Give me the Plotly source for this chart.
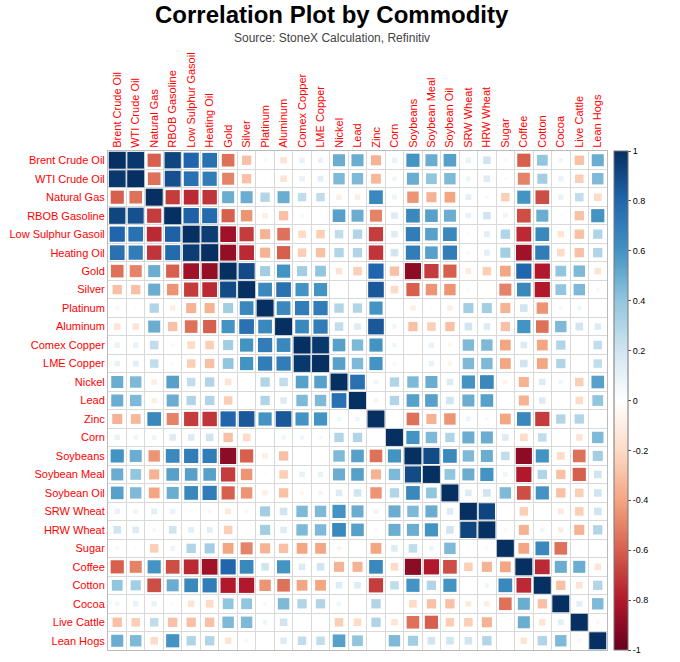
import numpy as np
import plotly.graph_objects as go

# Commodity names (row / column order)
commodities = [
    "Brent Crude Oil", "WTI Crude Oil", "Natural Gas", "RBOB Gasoline",
    "Low Sulphur Gasoil", "Heating Oil", "Gold", "Silver", "Platinum",
    "Aluminum", "Comex Copper", "LME Copper", "Nickel", "Lead", "Zinc",
    "Corn", "Soybeans", "Soybean Meal", "Soybean Oil", "SRW Wheat",
    "HRW Wheat", "Sugar", "Coffee", "Cotton", "Cocoa", "Live Cattle", "Lean Hogs",
]

# Lower triangle of the correlation matrix
r_brent = [1]
r_wti = [0.97, 1]
r_natgas = [-0.6, -0.55, 1]
r_rbob = [0.92, 0.88, -0.7, 1]
r_lsgo = [0.8, 0.75, -0.75, 0.82, 1]
r_ho = [0.75, 0.7, -0.72, 0.78, 0.95, 1]
r_gold = [-0.55, -0.5, 0.5, -0.6, -0.85, -0.88, 1]
r_silver = [-0.3, -0.3, 0.5, -0.45, -0.7, -0.75, 0.9, 1]
r_plat = [-0.05, -0.03, 0.3, -0.1, -0.35, -0.35, 0.35, 0.65, 1]
r_alu = [-0.15, -0.15, 0.5, -0.3, -0.55, -0.6, 0.6, 0.75, 0.65, 1]
r_comex = [0.1, 0.1, 0.25, 0.05, -0.2, -0.25, 0.35, 0.6, 0.7, 0.65, 1]
r_lme = [0.1, 0.12, 0.25, 0.03, -0.25, -0.3, 0.4, 0.6, 0.7, 0.7, 0.97, 1]
r_nickel = [0.5, 0.45, -0.1, 0.55, 0.25, 0.3, -0.15, 0, 0.3, 0.25, 0.55, 0.55, 1]
r_lead = [0.5, 0.45, -0.1, 0.5, 0.3, 0.3, -0.25, -0.02, 0.3, 0.15, 0.45, 0.45, 0.75, 1]
r_zinc = [-0.35, -0.33, 0.65, -0.5, -0.7, -0.72, 0.8, 0.85, 0.6, 0.85, 0.6, 0.6, 0.07, 0.07, 1]
r_corn = [0.1, 0.07, 0.08, 0.15, 0.15, 0.2, -0.3, -0.2, 0.02, 0.07, 0.07, 0.05, 0.3, 0.3,
          -0.02, 1]
r_soyb = [0.6, 0.5, -0.45, 0.65, 0.7, 0.7, -0.9, -0.6, -0.1, -0.3, 0, -0.02, 0.45, 0.55,
          -0.55, 0.6, 1]
r_soym = [0.5, 0.4, -0.35, 0.55, 0.55, 0.55, -0.7, -0.45, -0.03, -0.25, 0.1, 0.1, 0.5, 0.55,
          -0.35, 0.45, 0.9, 1]
r_soyo = [0.55, 0.45, -0.4, 0.5, 0.65, 0.7, -0.6, -0.45, -0.1, -0.3, -0.05, -0.07, 0.15, 0.2,
          -0.45, 0.3, 0.65, 0.4, 1]
r_srw = [0.1, 0.08, 0.12, 0.1, 0.03, 0.05, -0.12, 0.05, 0.35, 0.2, 0.45, 0.45, 0.6, 0.5,
         0.08, 0.5, 0.45, 0.5, 0.15, 1]
r_hrw = [0.2, 0.15, 0.05, 0.2, 0.12, 0.12, -0.25, 0, 0.35, 0.15, 0.45, 0.45, 0.65, 0.55,
         0.05, 0.5, 0.5, 0.6, 0.2, 0.92, 1]
r_sugar = [0.05, 0.03, -0.25, 0.08, 0.3, 0.35, -0.4, -0.5, -0.35, -0.3, -0.4, -0.4, -0.07, 0,
           -0.4, 0.15, 0.25, 0.08, 0.45, -0.02, -0.05, 1]
r_coffee = [-0.6, -0.5, 0.6, -0.65, -0.75, -0.85, 0.8, 0.65, 0.2, 0.6, 0.15, 0.2, -0.35, -0.35,
            0.65, -0.2, -0.9, -0.8, -0.65, -0.25, -0.35, -0.4, 1]
r_cotton = [0.4, 0.35, -0.65, 0.5, 0.65, 0.7, -0.8, -0.8, -0.45, -0.55, -0.4, -0.4, 0.15, 0.15,
            -0.7, 0.25, 0.6, 0.3, 0.6, 0.02, 0.07, 0.65, -0.75, 1]
r_cocoa = [0.07, 0.1, 0.1, 0.03, -0.15, -0.2, 0.4, 0.4, 0.05, 0.45, 0.3, 0.3, 0.07, 0,
           0.3, 0, -0.2, -0.3, -0.3, -0.12, -0.1, -0.55, 0.5, -0.3, 1]
r_cattle = [-0.3, -0.25, 0.25, -0.3, -0.3, -0.3, 0.45, 0.45, 0.07, 0.2, 0.02, 0.02, -0.25, -0.2,
            0.3, -0.15, -0.55, -0.6, -0.25, -0.25, -0.35, -0.02, 0.5, -0.15, 0.12, 1]
r_hogs = [0.5, 0.45, -0.2, 0.6, 0.3, 0.3, -0.15, -0.05, 0.02, 0.15, 0.25, 0.25, 0.55, 0.4,
          -0.01, 0.45, 0.35, 0.2, 0.2, 0.2, 0.3, 0, -0.15, 0.3, 0.45, -0.05, 1]

lower = [r_brent, r_wti, r_natgas, r_rbob, r_lsgo, r_ho, r_gold, r_silver, r_plat, r_alu,
         r_comex, r_lme, r_nickel, r_lead, r_zinc, r_corn, r_soyb, r_soym, r_soyo, r_srw,
         r_hrw, r_sugar, r_coffee, r_cotton, r_cocoa, r_cattle, r_hogs]

# Build full symmetric matrix
n = len(commodities)
corr = np.zeros((n, n))
for i, row in enumerate(lower):
    for j, v in enumerate(row):
        corr[i, j] = v
        corr[j, i] = v

# corrplot style RdBu colours
rdbu = ["#67001F", "#B2182B", "#D6604D", "#F4A582", "#FDDBC7", "#FFFFFF",
        "#D1E5F0", "#92C5DE", "#4393C3", "#2166AC", "#053061"]
colorscale = [[k / 10, c] for k, c in enumerate(rdbu)]

xs, ys, vals = [], [], []
for i in range(n):
    for j in range(n):
        xs.append(j)
        ys.append(i)
        vals.append(corr[i, j])
vals = np.array(vals)
# square area proportional to |r|
sizes = 17 * np.sqrt(np.abs(vals))

fig = go.Figure()
fig.add_trace(go.Scatter(
    x=xs, y=ys, mode="markers",
    marker=dict(
        symbol="square", size=sizes, color=vals, opacity=1,
        colorscale=colorscale, cmin=-1, cmax=1,
        line=dict(width=0),
        colorbar=dict(
            x=1.014, xanchor="left", xpad=0,
            y=0.5, yanchor="middle", ypad=0,
            len=1, lenmode="fraction", thickness=14,
            tickvals=[1, 0.8, 0.6, 0.4, 0.2, 0, -0.2, -0.4, -0.6, -0.8, -1],
            ticktext=["1", "0.8", "0.6", "0.4", "0.2", "0", "-0.2", "-0.4", "-0.6", "-0.8", "-1"],
            ticks="outside", ticklen=3, tickcolor="#555",
            tickfont=dict(size=9, color="black"),
            outlinewidth=1, outlinecolor="#777",
        ),
    ),
    hoverinfo="skip",
    showlegend=False,
))

grid = dict(tick0=0.5, dtick=1, showgrid=True, gridcolor="#D9D9D9", gridwidth=1)

fig.update_xaxes(
    range=[-0.5, n - 0.5], side="top", automargin=False,
    tickvals=list(range(n)), ticktext=commodities, tickangle=-90,
    tickfont=dict(size=11, color="red", family="Liberation Sans, Arial"),
    showgrid=False, zeroline=False, minor=grid,
    showline=True, mirror=True, linecolor="#BBBBBB", linewidth=1,
)
fig.update_yaxes(
    range=[n - 0.5, -0.5], automargin=False,
    tickvals=list(range(n)), ticktext=commodities,
    tickfont=dict(size=11, color="red", family="Liberation Sans, Arial"),
    showgrid=False, zeroline=False, minor=grid,
    showline=True, mirror=True, linecolor="#BBBBBB", linewidth=1,
)

W, H = 680, 662
ml, mr, mt, mb = 108, 73, 151, 12
fig.update_layout(
    width=W, height=H,
    margin=dict(l=ml, r=mr, t=mt, b=mb, autoexpand=False),
    plot_bgcolor="white", paper_bgcolor="white",
    font=dict(family="Liberation Sans, Arial"),
    annotations=[
        dict(text="<b>Correlation Plot by Commodity</b>", x=332, y=15,
             xref="paper", yref="paper", showarrow=False,
             font=dict(size=24, color="black")),
        dict(text="Source: StoneX Calculation, Refinitiv", x=332, y=38,
             xref="paper", yref="paper", showarrow=False,
             font=dict(size=12, color="#444")),
    ],
)

# convert pixel positions of the titles to paper coordinates
pw, ph = W - ml - mr, H - mt - mb
for a in fig.layout.annotations:
    a.x = (a.x - ml) / pw
    a.y = (H - mb - a.y) / ph
    a.xanchor = "center"
    a.yanchor = "middle"

# remove the default page margin so the figure sits at the window corner
fig.write_html("out.html", config={"displayModeBar": False},
               post_script="document.body.style.margin='0px';")
